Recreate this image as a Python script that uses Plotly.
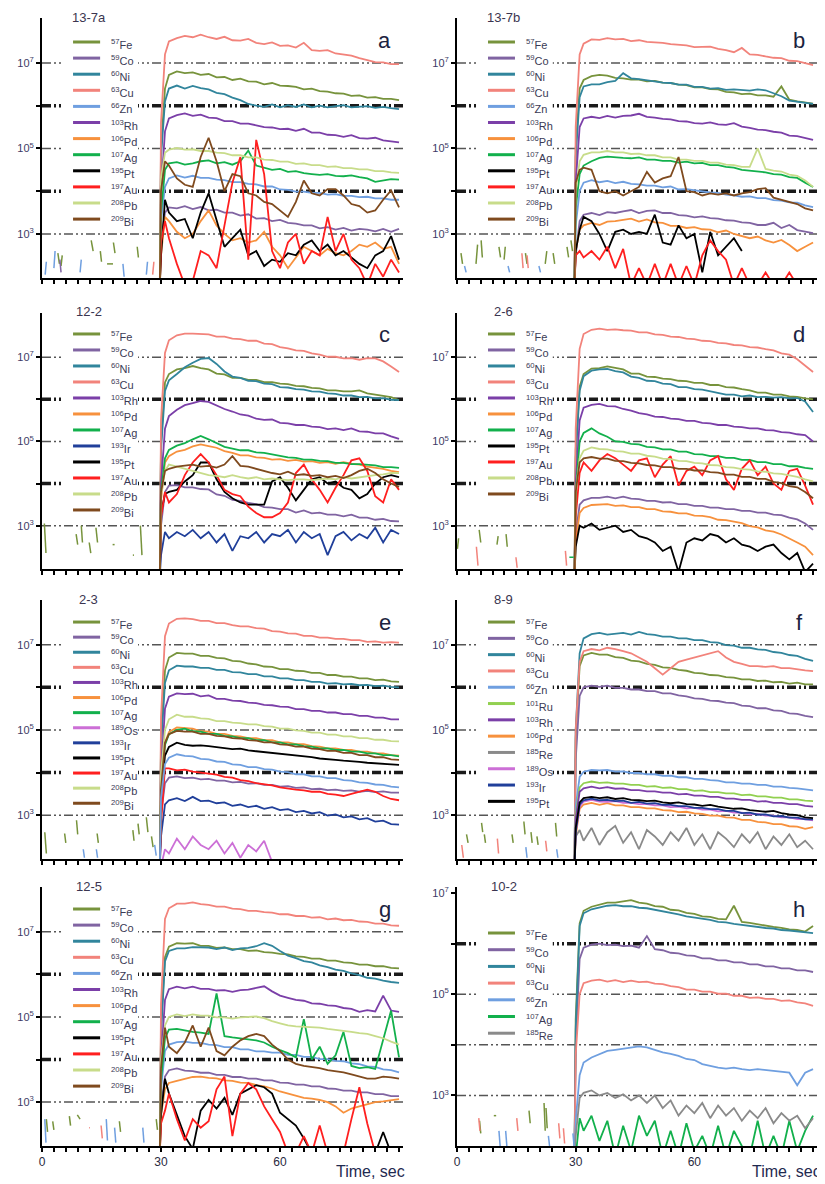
import plotly.graph_objects as go

# ---------------- sample times (s) ----------------
T = [30, 31, 32, 34, 36, 38, 40, 42, 44, 46, 48, 50, 52, 54, 56, 58, 60,
     62, 64, 66, 68, 70, 72, 74, 76, 78, 80, 82, 84, 86, 88, 90]
START_T = 29.7   # records start from the noise floor just before 30 s
FLOOR = 1.8      # log10 level below axis bottom (no signal)

COLORS = {
    "Fe": "#77933c", "Co": "#8064a2", "Ni": "#31859c", "Cu": "#f2837b",
    "Zn": "#6f9fe0", "Ru": "#92d050", "Rh": "#7b3fa8", "Pd": "#f7913d",
    "Ag": "#12b04c", "Re": "#8a8a8a", "Os": "#cc6fd6", "Ir": "#203f9a",
    "Pt": "#000000", "Au": "#ff1f1f", "Pb": "#c8dc8a", "Bi": "#7f4a1e",
}
MASS = {"Fe": 57, "Co": 59, "Ni": 60, "Cu": 63, "Zn": 66, "Ru": 101, "Rh": 103,
        "Pd": 106, "Ag": 107, "Re": 185, "Os": 189, "Ir": 193, "Pt": 195,
        "Au": 197, "Pb": 208, "Bi": 209}

# ---------------- panel a : 13-7a (log10 counts) ----------------
Fe_a = [5.0, 6.4, 6.72, 6.8, 6.76, 6.78, 6.72, 6.74, 6.66, 6.67, 6.6, 6.63, 6.57, 6.56, 6.5, 6.53, 6.47, 6.46, 6.44, 6.38, 6.4, 6.34, 6.33, 6.29, 6.28, 6.23, 6.24, 6.19, 6.2, 6.16, 6.16, 6.13]
Co_a = [2.8, 3.5, 3.62, 3.6, 3.65, 3.58, 3.63, 3.55, 3.57, 3.5, 3.5, 3.43, 3.46, 3.36, 3.37, 3.3, 3.33, 3.26, 3.24, 3.2, 3.2, 3.13, 3.16, 3.1, 3.14, 3.08, 3.12, 3.1, 3.06, 3.12, 3.05, 3.12]
Ni_a = [4.8, 6.1, 6.4, 6.47, 6.4, 6.46, 6.41, 6.38, 6.3, 6.27, 6.19, 6.13, 6.04, 6.0, 5.97, 6.03, 5.96, 6.01, 5.97, 6.03, 5.96, 6.0, 5.96, 5.99, 6.01, 5.96, 5.98, 5.99, 5.95, 5.97, 5.94, 5.92]
Cu_a = [5.6, 7.2, 7.5, 7.58, 7.63, 7.6, 7.66, 7.6, 7.56, 7.61, 7.53, 7.52, 7.56, 7.47, 7.44, 7.48, 7.4, 7.41, 7.36, 7.47, 7.3, 7.28, 7.3, 7.22, 7.2, 7.17, 7.11, 7.06, 7.02, 7.01, 6.97, 6.97]
Zn_a = [3.3, 4.1, 4.3, 4.37, 4.32, 4.36, 4.31, 4.31, 4.27, 4.26, 4.21, 4.21, 4.17, 4.16, 4.11, 4.11, 4.04, 4.03, 3.99, 3.99, 3.96, 3.96, 3.92, 3.93, 3.89, 3.89, 3.86, 3.87, 3.83, 3.83, 3.8, 3.8]
Rh_a = [4.0, 5.4, 5.7, 5.78, 5.82, 5.76, 5.79, 5.72, 5.71, 5.64, 5.64, 5.58, 5.58, 5.54, 5.5, 5.49, 5.45, 5.46, 5.41, 5.46, 5.37, 5.37, 5.32, 5.31, 5.27, 5.31, 5.24, 5.23, 5.25, 5.19, 5.16, 5.14]
Pd_a = [2.5, 3.4, 3.3, 3.05, 2.9, 3.0, 3.3, 3.55, 3.2, 3.0, 2.85, 2.9, 2.8, 2.85, 3.05, 2.7, 2.5, 2.2, 2.45, 2.7, 2.6, 2.5, 2.65, 2.55, 2.5, 2.6, 2.75, 2.7, 2.8, 2.65, 2.7, 2.3]
Ag_a = [3.5, 4.5, 4.65, 4.68, 4.62, 4.65, 4.7, 4.72, 4.65, 4.68, 4.62, 4.7, 4.95, 4.6, 4.55, 4.5, 4.52, 4.45, 4.47, 4.42, 4.4, 4.38, 4.4, 4.36, 4.35, 4.37, 4.33, 4.3, 4.22, 4.25, 4.28, 4.27]
Pt_a = [2.5, 3.8, 3.5, 3.3, 3.35, 2.9, 3.5, 3.95, 3.3, 2.7, 2.9, 3.1, 2.5, 2.6, 2.25, 2.4, 2.35, 2.55, 2.5, 2.75, 2.85, 2.6, 2.75, 2.5, 2.6, 2.45, 2.3, 2.2, 2.5, 2.6, 2.95, 2.4]
Au_a = [2.8, 3.3, 2.9, 2.3, 1.8, 1.9, 2.6, 2.5, 2.2, 3.2, 4.2, 4.8, 2.4, 5.2, 4.4, 2.6, 2.2, 2.8, 3.0, 2.3, 2.6, 2.5, 3.4, 2.6, 3.0, 2.4, 2.2, 1.8, 2.3, 2.0, 2.4, 2.1]
Pb_a = [4.3, 4.9, 4.97, 5.01, 4.97, 4.98, 4.94, 4.94, 4.9, 4.89, 4.84, 4.84, 4.79, 4.79, 4.74, 4.73, 4.69, 4.69, 4.64, 4.65, 4.61, 4.61, 4.57, 4.58, 4.54, 4.54, 4.51, 4.51, 4.47, 4.47, 4.44, 4.43]
Bi_a = [4.0, 4.7, 4.6, 4.3, 4.15, 4.1, 4.8, 5.25, 4.7, 4.0, 4.4, 4.35, 3.95, 3.9, 3.75, 3.7, 3.55, 3.4, 3.75, 4.25, 3.95, 3.9, 4.05, 4.05, 3.9, 3.7, 3.65, 3.5, 3.55, 3.8, 4.02, 3.62]

# ---------------- panel b : 13-7b ----------------
Fe_b = [5.0, 6.4, 6.6, 6.69, 6.72, 6.7, 6.65, 6.64, 6.61, 6.61, 6.57, 6.58, 6.54, 6.53, 6.49, 6.48, 6.43, 6.43, 6.39, 6.38, 6.32, 6.31, 6.27, 6.28, 6.24, 6.24, 6.21, 6.45, 6.14, 6.1, 6.08, 6.05]
Co_b = [2.5, 3.3, 3.45, 3.49, 3.44, 3.51, 3.49, 3.53, 3.56, 3.49, 3.54, 3.55, 3.49, 3.49, 3.44, 3.43, 3.39, 3.41, 3.37, 3.36, 3.32, 3.31, 3.27, 3.26, 3.21, 3.21, 3.26, 3.14, 3.21, 3.09, 3.06, 3.02]
Ni_b = [4.8, 6.2, 6.45, 6.5, 6.5, 6.55, 6.58, 6.76, 6.64, 6.62, 6.59, 6.57, 6.54, 6.53, 6.49, 6.49, 6.44, 6.44, 6.4, 6.41, 6.37, 6.38, 6.36, 6.35, 6.38, 6.36, 6.29, 6.22, 6.12, 6.09, 6.06, 6.04]
Cu_b = [5.5, 7.2, 7.45, 7.55, 7.54, 7.58, 7.55, 7.56, 7.51, 7.53, 7.49, 7.48, 7.47, 7.44, 7.42, 7.41, 7.37, 7.37, 7.38, 7.33, 7.3, 7.25, 7.35, 7.2, 7.19, 7.15, 7.12, 7.11, 7.05, 7.04, 7.0, 6.95]
Zn_b = [3.2, 4.0, 4.2, 4.26, 4.21, 4.24, 4.19, 4.22, 4.17, 4.16, 4.13, 4.13, 4.09, 4.11, 4.04, 4.05, 4.02, 4.0, 3.97, 3.96, 3.92, 3.9, 3.87, 3.88, 3.84, 3.84, 3.79, 3.78, 3.74, 3.73, 3.67, 3.63]
Rh_b = [4.2, 5.5, 5.7, 5.74, 5.71, 5.76, 5.72, 5.76, 5.77, 5.81, 5.74, 5.72, 5.69, 5.68, 5.64, 5.63, 5.59, 5.58, 5.61, 5.56, 5.55, 5.59, 5.51, 5.48, 5.44, 5.43, 5.39, 5.37, 5.3, 5.29, 5.24, 5.2]
Pd_b = [2.6, 3.1, 3.2, 3.26, 3.21, 3.29, 3.3, 3.33, 3.36, 3.29, 3.34, 3.27, 3.26, 3.19, 3.19, 3.14, 3.16, 3.11, 3.1, 3.04, 3.08, 3.0, 2.95, 2.9, 2.94, 2.85, 2.8, 2.86, 2.74, 2.6, 2.7, 2.8]
Ag_b = [3.6, 4.4, 4.6, 4.7, 4.78, 4.81, 4.79, 4.78, 4.77, 4.79, 4.74, 4.74, 4.71, 4.71, 4.67, 4.69, 4.65, 4.66, 4.61, 4.61, 4.57, 4.55, 4.5, 4.48, 4.45, 4.44, 4.4, 4.39, 4.33, 4.31, 4.2, 4.1]
Pt_b = [2.6, 3.1, 3.4, 3.3, 3.0, 2.6, 3.05, 3.1, 3.0, 3.05, 3.0, 3.45, 2.8, 2.75, 3.2, 2.9, 3.0, 2.1, 3.05, 2.5, 2.7, 2.9, 2.6, None, None, None, None, None, None, None, None, None]
Au_b = [2.5, 2.6, 2.45, 2.6, 2.4, 2.7, 2.2, 2.65, 1.8, 2.2, 1.8, 2.3, 1.8, 2.3, 1.8, 2.25, 1.8, 2.5, 2.85, 2.6, 2.4, 1.8, 2.2, 1.8, 1.8, 2.1, 1.8, 1.8, 2.1, 1.8, 1.8, 1.8]
Pb_b = [4.0, 4.7, 4.85, 4.91, 4.91, 4.94, 4.91, 4.91, 4.87, 4.88, 4.84, 4.84, 4.79, 4.79, 4.74, 4.74, 4.71, 4.71, 4.67, 4.67, 4.62, 4.61, 4.57, 4.57, 5.0, 4.52, 4.48, 4.46, 4.39, 4.36, 4.25, 4.1]
Bi_b = [4.2, 4.5, 4.55, 4.5, 4.0, 3.95, 4.0, 3.9, 4.0, 4.1, 4.45, 4.2, 4.3, 4.35, 4.8, 4.0, 3.98, 3.9, 3.95, 3.92, 3.95, 3.9, 3.95, 3.98, 4.05, 4.07, 3.85, 3.8, 3.75, 3.7, 3.6, 3.55]

# ---------------- panel c : 12-2 ----------------
Fe_c = [5.0, 6.4, 6.6, 6.71, 6.74, 6.79, 6.74, 6.71, 6.61, 6.59, 6.51, 6.51, 6.46, 6.46, 6.41, 6.41, 6.37, 6.36, 6.32, 6.31, 6.27, 6.26, 6.21, 6.21, 6.19, 6.19, 6.21, 6.14, 6.11, 6.07, 6.05, 5.98]
Co_c = [3.0, 3.8, 3.95, 3.96, 3.91, 3.91, 3.87, 3.86, 3.74, 3.71, 3.61, 3.59, 3.54, 3.51, 3.44, 3.43, 3.39, 3.39, 3.31, 3.36, 3.29, 3.31, 3.26, 3.26, 3.22, 3.26, 3.19, 3.19, 3.14, 3.16, 3.11, 3.1]
Ni_c = [4.8, 6.2, 6.45, 6.6, 6.76, 6.87, 6.96, 6.98, 6.84, 6.66, 6.54, 6.51, 6.44, 6.43, 6.37, 6.36, 6.29, 6.28, 6.24, 6.23, 6.19, 6.18, 6.14, 6.13, 6.09, 6.09, 6.05, 6.06, 6.02, 6.03, 5.99, 5.98]
Cu_c = [5.5, 7.1, 7.4, 7.52, 7.56, 7.56, 7.55, 7.54, 7.49, 7.49, 7.44, 7.43, 7.39, 7.39, 7.32, 7.31, 7.24, 7.21, 7.16, 7.15, 7.09, 7.06, 7.01, 7.01, 6.97, 6.98, 6.94, 6.98, 6.97, 6.9, 6.78, 6.65]
Rh_c = [4.0, 5.3, 5.6, 5.75, 5.86, 5.91, 5.96, 5.94, 5.86, 5.77, 5.71, 5.64, 5.61, 5.54, 5.51, 5.52, 5.44, 5.43, 5.39, 5.39, 5.35, 5.34, 5.29, 5.31, 5.27, 5.31, 5.24, 5.23, 5.19, 5.19, 5.12, 5.06]
Pd_c = [3.6, 4.5, 4.65, 4.76, 4.8, 4.88, 4.93, 4.89, 4.85, 4.77, 4.73, 4.67, 4.67, 4.62, 4.61, 4.57, 4.58, 4.54, 4.56, 4.52, 4.53, 4.49, 4.51, 4.47, 4.51, 4.47, 4.45, 4.4, 4.38, 4.35, 4.3, 4.27]
Ag_c = [3.8, 4.6, 4.8, 4.9, 4.96, 5.05, 5.13, 5.05, 4.95, 4.87, 4.83, 4.79, 4.79, 4.74, 4.73, 4.69, 4.66, 4.62, 4.61, 4.57, 4.57, 4.54, 4.53, 4.49, 4.49, 4.46, 4.46, 4.44, 4.43, 4.39, 4.39, 4.37]
Ir_c = [2.3, 2.85, 2.7, 2.85, 2.75, 2.9, 2.7, 2.85, 2.6, 2.8, 2.4, 2.75, 2.7, 2.85, 2.6, 2.8, 2.75, 2.9, 2.6, 2.85, 2.7, 2.8, 2.3, 2.75, 2.85, 2.65, 2.8, 2.7, 2.95, 2.6, 2.9, 2.8]
Pt_c = [3.3, 3.75, 3.8, 3.85, 4.05, 4.2, 4.5, 4.5, 4.1, 3.8, 3.65, 3.55, 3.5, 3.5, 3.5, 4.05, 4.15, 3.9, 3.6, 3.85, 4.1, 4.15, 4.0, 4.05, 3.9, 3.85, 3.65, 3.75, 4.0, 4.15, 4.2, 4.15]
Au_c = [3.2, 3.8, 3.55, 3.75, 4.2, 4.5, 4.7, 4.5, 4.2, 3.85, 3.75, 3.7, 3.45, 3.3, 3.2, 3.2, 3.3, 3.55, 4.25, 4.45, 4.1, 3.85, 3.55, 3.9, 4.2, 4.55, 4.6, 4.3, 3.7, 3.55, 4.1, 3.85]
Pb_c = [3.7, 4.3, 4.45, 4.4, 4.35, 4.3, 4.25, 4.2, 4.18, 4.15, 4.2, 4.15, 4.12, 4.15, 4.1, 4.12, 4.1, 4.08, 4.1, 4.1, 4.08, 4.1, 4.12, 4.1, 4.15, 4.12, 4.15, 4.18, 4.2, 4.22, 4.25, 4.25]
Bi_c = [3.8, 4.3, 4.35, 4.4, 4.42, 4.45, 4.4, 4.42, 4.38, 4.45, 4.65, 4.42, 4.4, 4.35, 4.3, 4.25, 4.22, 4.28, 4.2, 4.22, 4.18, 4.2, 4.15, 4.18, 4.13, 4.2, 4.3, 4.35, 4.25, 4.1, 4.0, 3.92]

# ---------------- panel d : 2-6 ----------------
Fe_d = [4.8, 6.3, 6.6, 6.73, 6.74, 6.78, 6.74, 6.71, 6.61, 6.61, 6.54, 6.53, 6.49, 6.48, 6.44, 6.43, 6.39, 6.39, 6.34, 6.34, 6.29, 6.28, 6.24, 6.21, 6.16, 6.16, 6.11, 6.11, 6.07, 6.06, 6.02, 6.0]
Co_d = [2.8, 3.5, 3.6, 3.66, 3.66, 3.69, 3.65, 3.69, 3.64, 3.63, 3.59, 3.59, 3.55, 3.56, 3.51, 3.51, 3.47, 3.47, 3.43, 3.43, 3.39, 3.39, 3.35, 3.35, 3.31, 3.31, 3.26, 3.25, 3.19, 3.15, 3.05, 2.9]
Ni_d = [4.6, 6.2, 6.55, 6.68, 6.71, 6.72, 6.67, 6.64, 6.54, 6.51, 6.44, 6.43, 6.37, 6.36, 6.29, 6.29, 6.24, 6.23, 6.19, 6.16, 6.11, 6.11, 6.07, 6.09, 6.05, 6.06, 6.04, 6.05, 6.02, 6.03, 5.95, 5.7]
Cu_d = [5.3, 7.2, 7.55, 7.65, 7.68, 7.65, 7.66, 7.64, 7.63, 7.59, 7.59, 7.54, 7.53, 7.49, 7.48, 7.44, 7.43, 7.39, 7.38, 7.34, 7.33, 7.29, 7.28, 7.24, 7.23, 7.19, 7.16, 7.09, 7.06, 6.95, 6.8, 6.65]
Rh_d = [4.0, 5.5, 5.8, 5.87, 5.89, 5.84, 5.83, 5.77, 5.73, 5.67, 5.64, 5.59, 5.58, 5.54, 5.53, 5.49, 5.49, 5.44, 5.43, 5.39, 5.39, 5.35, 5.34, 5.31, 5.31, 5.27, 5.26, 5.22, 5.21, 5.17, 5.15, 5.0]
Pd_d = [2.6, 3.3, 3.42, 3.49, 3.5, 3.51, 3.47, 3.48, 3.44, 3.44, 3.39, 3.39, 3.34, 3.33, 3.29, 3.29, 3.24, 3.23, 3.2, 3.14, 3.13, 3.09, 3.06, 2.99, 2.96, 2.89, 2.86, 2.79, 2.7, 2.6, 2.5, 2.3]
Ag_d = [3.8, 5.0, 5.2, 5.31, 5.19, 5.11, 5.0, 4.99, 4.94, 4.93, 4.87, 4.86, 4.81, 4.81, 4.76, 4.76, 4.7, 4.69, 4.65, 4.65, 4.61, 4.61, 4.56, 4.56, 4.51, 4.51, 4.46, 4.46, 4.41, 4.41, 4.37, 4.35]
Pt_d = [2.5, 3.0, 2.95, 3.05, 2.9, 2.95, 3.0, 2.85, 2.9, 2.75, 2.7, 2.6, 2.4, 2.5, 1.9, 2.6, 2.7, 2.65, 2.8, 2.75, 2.6, 2.7, 2.55, 2.5, 2.4, 2.5, 2.55, 2.35, 2.2, 2.35, 1.9, 2.1]
Au_d = [3.2, 4.25, 4.5, 4.3, 4.55, 4.7, 4.6, 4.45, 4.3, 4.55, 4.6, 4.15, 4.45, 4.65, 3.95, 4.3, 4.4, 4.2, 4.55, 4.65, 4.1, 3.85, 4.35, 4.55, 4.2, 4.4, 4.0, 3.85, 4.3, 4.35, 3.95, 3.5]
Pb_d = [3.8, 4.6, 4.78, 4.86, 4.82, 4.81, 4.77, 4.76, 4.71, 4.71, 4.66, 4.64, 4.59, 4.58, 4.54, 4.53, 4.49, 4.48, 4.44, 4.43, 4.39, 4.38, 4.34, 4.33, 4.29, 4.28, 4.24, 4.23, 4.19, 4.16, 4.1, 4.05]
Bi_d = [3.8, 4.5, 4.6, 4.63, 4.59, 4.59, 4.54, 4.53, 4.49, 4.48, 4.44, 4.43, 4.39, 4.39, 4.35, 4.35, 4.31, 4.31, 4.27, 4.26, 4.21, 4.21, 4.16, 4.16, 4.11, 4.11, 4.04, 4.01, 3.94, 3.91, 3.8, 3.65]

# ---------------- panel e : 2-3 ----------------
Fe_e = [4.8, 6.4, 6.7, 6.81, 6.79, 6.79, 6.74, 6.74, 6.69, 6.68, 6.62, 6.61, 6.56, 6.54, 6.49, 6.48, 6.43, 6.43, 6.39, 6.38, 6.34, 6.34, 6.29, 6.29, 6.25, 6.25, 6.21, 6.21, 6.17, 6.18, 6.14, 6.13]
Co_e = [3.0, 3.75, 3.88, 3.91, 3.87, 3.88, 3.84, 3.85, 3.81, 3.81, 3.77, 3.78, 3.74, 3.75, 3.71, 3.71, 3.67, 3.68, 3.64, 3.65, 3.61, 3.62, 3.59, 3.6, 3.57, 3.58, 3.55, 3.57, 3.54, 3.56, 3.53, 3.53]
Ni_e = [4.6, 6.1, 6.4, 6.51, 6.49, 6.49, 6.46, 6.46, 6.41, 6.41, 6.36, 6.35, 6.31, 6.31, 6.26, 6.26, 6.21, 6.21, 6.17, 6.17, 6.13, 6.13, 6.09, 6.1, 6.07, 6.08, 6.05, 6.06, 6.03, 6.04, 6.01, 6.0]
Cu_e = [5.3, 7.2, 7.5, 7.61, 7.62, 7.6, 7.56, 7.56, 7.51, 7.51, 7.46, 7.43, 7.43, 7.39, 7.38, 7.32, 7.31, 7.27, 7.26, 7.21, 7.21, 7.17, 7.17, 7.14, 7.14, 7.11, 7.11, 7.07, 7.08, 7.05, 7.06, 7.05]
Zn_e = [3.4, 4.2, 4.35, 4.43, 4.39, 4.38, 4.32, 4.31, 4.26, 4.25, 4.19, 4.18, 4.13, 4.13, 4.08, 4.07, 4.02, 4.01, 3.96, 3.96, 3.91, 3.91, 3.87, 3.87, 3.82, 3.81, 3.77, 3.76, 3.72, 3.71, 3.67, 3.65]
Rh_e = [4.0, 5.5, 5.78, 5.86, 5.84, 5.85, 5.79, 5.81, 5.73, 5.73, 5.69, 5.68, 5.64, 5.63, 5.59, 5.58, 5.55, 5.54, 5.49, 5.49, 5.45, 5.45, 5.41, 5.41, 5.37, 5.37, 5.33, 5.33, 5.29, 5.29, 5.25, 5.25]
Pd_e = [3.6, 4.7, 4.95, 5.06, 5.04, 5.03, 4.97, 4.96, 4.91, 4.91, 4.86, 4.85, 4.81, 4.81, 4.76, 4.76, 4.71, 4.71, 4.67, 4.67, 4.62, 4.61, 4.57, 4.57, 4.53, 4.53, 4.49, 4.49, 4.45, 4.45, 4.41, 4.4]
Ag_e = [3.5, 4.65, 4.9, 5.0, 5.03, 4.97, 4.96, 4.91, 4.91, 4.86, 4.85, 4.81, 4.81, 4.76, 4.76, 4.71, 4.71, 4.66, 4.66, 4.62, 4.61, 4.57, 4.57, 4.53, 4.53, 4.49, 4.49, 4.45, 4.45, 4.41, 4.41, 4.38]
Os_e = [1.8, 2.2, 2.1, 2.45, 2.2, 2.5, 2.3, 2.2, 2.4, 2.1, 2.35, 2.0, 2.3, 2.15, 2.4, 1.9, 1.8, 1.8, 1.8, 1.8, 1.8, 1.8, 1.8, 1.8, 1.8, 1.8, 1.8, 1.8, 1.8, 1.8, 1.8, 1.8]
Ir_e = [2.5, 3.25, 3.35, 3.4, 3.33, 3.43, 3.33, 3.34, 3.28, 3.3, 3.22, 3.25, 3.19, 3.22, 3.15, 3.19, 3.12, 3.14, 3.07, 3.1, 3.04, 3.07, 2.99, 3.02, 2.95, 2.97, 2.9, 2.93, 2.85, 2.87, 2.79, 2.78]
Pt_e = [3.4, 4.4, 4.6, 4.7, 4.65, 4.63, 4.64, 4.62, 4.6, 4.58, 4.55, 4.56, 4.52, 4.5, 4.48, 4.47, 4.45, 4.42, 4.4, 4.38, 4.36, 4.33, 4.32, 4.3, 4.28, 4.27, 4.25, 4.23, 4.22, 4.2, 4.2, 4.18]
Au_e = [2.8, 4.1, 4.1, 4.05, 4.07, 4.02, 4.0, 3.98, 3.95, 3.9, 3.88, 3.82, 3.8, 3.75, 3.72, 3.7, 3.65, 3.62, 3.6, 3.58, 3.55, 3.55, 3.5, 3.48, 3.45, 3.5, 3.55, 3.6, 3.55, 3.45, 3.38, 3.35]
Pb_e = [4.0, 5.0, 5.25, 5.36, 5.31, 5.31, 5.27, 5.26, 5.21, 5.21, 5.17, 5.16, 5.13, 5.13, 5.09, 5.08, 5.03, 5.03, 4.99, 4.98, 4.94, 4.94, 4.89, 4.89, 4.85, 4.85, 4.81, 4.81, 4.77, 4.77, 4.74, 4.73]
Bi_e = [3.6, 4.7, 4.9, 4.98, 4.96, 4.96, 4.91, 4.91, 4.86, 4.85, 4.81, 4.8, 4.76, 4.75, 4.71, 4.71, 4.66, 4.65, 4.61, 4.61, 4.56, 4.55, 4.51, 4.51, 4.46, 4.46, 4.41, 4.41, 4.36, 4.36, 4.31, 4.3]

# ---------------- panel f : 8-9 ----------------
Fe_f = [4.8, 6.5, 6.75, 6.81, 6.77, 6.77, 6.71, 6.69, 6.63, 6.61, 6.55, 6.53, 6.47, 6.46, 6.41, 6.39, 6.34, 6.33, 6.29, 6.28, 6.24, 6.23, 6.19, 6.19, 6.15, 6.16, 6.12, 6.13, 6.09, 6.11, 6.07, 6.07]
Co_f = [4.3, 5.8, 6.0, 6.04, 6.01, 6.04, 5.99, 5.99, 5.95, 5.95, 5.91, 5.91, 5.86, 5.86, 5.81, 5.79, 5.74, 5.73, 5.69, 5.68, 5.64, 5.63, 5.57, 5.56, 5.51, 5.51, 5.46, 5.45, 5.39, 5.38, 5.33, 5.3]
Ni_f = [5.0, 6.8, 7.15, 7.25, 7.28, 7.24, 7.26, 7.28, 7.24, 7.3, 7.25, 7.23, 7.19, 7.19, 7.15, 7.15, 7.11, 7.11, 7.06, 7.05, 6.99, 6.98, 6.93, 6.93, 6.89, 6.88, 6.83, 6.81, 6.76, 6.74, 6.67, 6.62]
Cu_f = [5.0, 6.6, 6.85, 6.9, 6.87, 6.93, 6.9, 6.85, 6.8, 6.7, 6.6, 6.45, 6.3, 6.45, 6.6, 6.65, 6.7, 6.75, 6.8, 6.85, 6.7, 6.6, 6.55, 6.5, 6.5, 6.48, 6.5, 6.45, 6.45, 6.42, 6.4, 6.38]
Zn_f = [3.2, 3.9, 4.02, 4.06, 4.05, 4.06, 4.02, 4.03, 3.99, 3.99, 3.96, 3.96, 3.92, 3.93, 3.89, 3.89, 3.85, 3.85, 3.82, 3.81, 3.77, 3.77, 3.74, 3.74, 3.71, 3.71, 3.67, 3.67, 3.64, 3.63, 3.6, 3.58]
Ru_f = [3.0, 3.65, 3.75, 3.79, 3.76, 3.77, 3.74, 3.74, 3.71, 3.71, 3.67, 3.68, 3.64, 3.65, 3.61, 3.61, 3.57, 3.58, 3.54, 3.54, 3.51, 3.51, 3.47, 3.48, 3.44, 3.44, 3.41, 3.41, 3.37, 3.37, 3.34, 3.33]
Rh_f = [2.9, 3.55, 3.63, 3.67, 3.63, 3.66, 3.62, 3.63, 3.59, 3.59, 3.56, 3.56, 3.53, 3.53, 3.49, 3.5, 3.46, 3.46, 3.43, 3.43, 3.39, 3.39, 3.36, 3.36, 3.32, 3.33, 3.29, 3.29, 3.26, 3.26, 3.22, 3.2]
Pd_f = [2.5, 3.15, 3.25, 3.29, 3.24, 3.28, 3.23, 3.23, 3.19, 3.19, 3.16, 3.16, 3.12, 3.11, 3.07, 3.08, 3.04, 3.03, 2.99, 2.99, 2.95, 2.94, 2.89, 2.89, 2.84, 2.83, 2.79, 2.79, 2.74, 2.73, 2.68, 2.72]
Re_f = [2.5, 2.65, 2.4, 2.7, 2.3, 2.6, 2.75, 2.35, 2.6, 2.2, 2.65, 2.5, 2.3, 2.6, 2.4, 2.7, 2.3, 2.55, 2.2, 2.6, 2.45, 2.25, 2.55, 2.35, 2.6, 2.2, 2.5, 2.3, 2.55, 2.25, 2.4, 2.2]
Os_f = [2.6, 3.2, 3.32, 3.36, 3.32, 3.31, 3.33, 3.29, 3.29, 3.26, 3.26, 3.23, 3.23, 3.19, 3.2, 3.16, 3.17, 3.13, 3.13, 3.09, 3.1, 3.06, 3.06, 3.02, 3.03, 2.99, 2.99, 2.95, 2.95, 2.91, 2.91, 2.88]
Ir_f = [2.6, 3.25, 3.35, 3.39, 3.35, 3.36, 3.33, 3.34, 3.29, 3.31, 3.27, 3.28, 3.24, 3.24, 3.21, 3.21, 3.17, 3.17, 3.14, 3.14, 3.1, 3.1, 3.05, 3.06, 3.01, 3.02, 2.97, 2.98, 2.94, 2.94, 2.9, 2.9]
Pt_f = [2.7, 3.3, 3.4, 3.43, 3.4, 3.42, 3.38, 3.4, 3.36, 3.35, 3.33, 3.34, 3.3, 3.28, 3.3, 3.26, 3.25, 3.22, 3.24, 3.2, 3.18, 3.15, 3.16, 3.12, 3.1, 3.08, 3.1, 3.05, 3.02, 3.0, 2.95, 2.93]

# ---------------- panel g : 12-5 ----------------
Fe_g = [4.8, 6.4, 6.65, 6.73, 6.72, 6.73, 6.67, 6.67, 6.62, 6.63, 6.59, 6.59, 6.55, 6.56, 6.52, 6.51, 6.48, 6.47, 6.42, 6.41, 6.37, 6.37, 6.32, 6.32, 6.28, 6.27, 6.23, 6.23, 6.19, 6.19, 6.15, 6.14]
Co_g = [2.9, 3.6, 3.75, 3.79, 3.74, 3.73, 3.69, 3.69, 3.64, 3.64, 3.59, 3.59, 3.55, 3.55, 3.51, 3.51, 3.46, 3.45, 3.41, 3.41, 3.37, 3.37, 3.32, 3.31, 3.27, 3.27, 3.23, 3.23, 3.19, 3.19, 3.14, 3.14]
Ni_g = [4.6, 6.3, 6.55, 6.61, 6.61, 6.64, 6.63, 6.63, 6.59, 6.63, 6.57, 6.61, 6.62, 6.66, 6.73, 6.67, 6.55, 6.44, 6.38, 6.31, 6.28, 6.21, 6.17, 6.11, 6.08, 6.02, 5.98, 5.92, 5.9, 5.85, 5.82, 5.8]
Cu_g = [5.3, 7.3, 7.55, 7.66, 7.66, 7.69, 7.65, 7.63, 7.59, 7.59, 7.54, 7.53, 7.49, 7.49, 7.46, 7.45, 7.41, 7.41, 7.37, 7.37, 7.33, 7.34, 7.29, 7.31, 7.27, 7.28, 7.24, 7.23, 7.19, 7.19, 7.15, 7.14]
Zn_g = [3.3, 4.2, 4.35, 4.41, 4.42, 4.39, 4.39, 4.35, 4.34, 4.29, 4.29, 4.24, 4.24, 4.19, 4.19, 4.16, 4.16, 4.11, 4.11, 4.06, 4.06, 4.01, 4.01, 3.97, 3.96, 3.91, 3.89, 3.84, 3.83, 3.77, 3.75, 3.7]
Rh_g = [4.0, 5.4, 5.65, 5.71, 5.67, 5.71, 5.66, 5.66, 5.62, 5.63, 5.59, 5.63, 5.64, 5.68, 5.72, 5.6, 5.5, 5.45, 5.4, 5.38, 5.32, 5.31, 5.27, 5.26, 5.21, 5.19, 5.12, 5.16, 5.13, 5.5, 5.15, 5.12]
Pd_g = [2.7, 3.3, 3.45, 3.5, 3.55, 3.59, 3.6, 3.57, 3.56, 3.51, 3.5, 3.46, 3.45, 3.4, 3.37, 3.32, 3.25, 3.2, 3.15, 3.1, 3.08, 3.05, 3.0, 2.9, 2.75, 2.85, 2.9, 2.95, 3.0, 3.02, 3.05, 3.07]
Ag_g = [3.5, 4.5, 4.7, 4.72, 4.68, 4.65, 4.63, 4.6, 5.55, 4.55, 4.52, 4.5, 4.48, 4.45, 4.4, 4.3, 4.22, 4.15, 4.05, 4.95, 4.0, 4.3, 3.9, 4.1, 4.65, 3.85, 3.8, 3.82, 3.78, 4.5, 5.15, 4.05]
Pt_g = [2.7, 3.55, 3.2, 2.7, 2.2, 1.9, 2.8, 3.05, 2.85, 3.1, 2.7, 3.2, 3.3, 3.4, 3.35, 3.2, 2.75, 2.6, 2.45, 2.15, 1.8, 1.8, 1.8, 1.8, 1.8, 1.8, 1.8, 1.8, 1.8, 2.3, 1.8, 1.8]
Au_g = [2.5, 2.8, 3.2, 2.6, 2.1, 2.6, 2.4, 2.55, 3.3, 3.6, 2.2, 3.2, 3.45, 3.3, 2.9, 2.6, 2.3, 1.8, 1.8, 2.2, 1.8, 2.45, 1.8, 1.8, 1.8, 2.6, 3.35, 2.5, 1.8, 1.8, 1.8, 1.8]
Pb_g = [4.0, 4.8, 5.0, 5.06, 5.02, 5.06, 5.03, 5.03, 4.99, 4.99, 4.96, 4.99, 5.0, 5.01, 4.97, 4.9, 4.85, 4.8, 4.78, 4.77, 4.76, 4.75, 4.72, 4.7, 4.68, 4.65, 4.62, 4.6, 4.55, 4.5, 4.42, 4.35]
Bi_g = [3.8, 4.75, 4.3, 4.15, 4.4, 4.8, 4.3, 4.75, 4.2, 4.1, 4.3, 4.45, 4.55, 4.6, 4.55, 4.35, 4.2, 4.0, 3.9, 3.85, 3.83, 3.8, 3.75, 3.72, 3.7, 3.65, 3.6, 3.55, 3.55, 3.6, 3.58, 3.55]

# ---------------- panel h : 10-2 ----------------
Fe_h = [4.5, 6.4, 6.65, 6.73, 6.77, 6.81, 6.81, 6.84, 6.86, 6.81, 6.79, 6.74, 6.73, 6.67, 6.66, 6.61, 6.59, 6.54, 6.53, 6.49, 6.48, 6.75, 6.43, 6.41, 6.38, 6.36, 6.33, 6.31, 6.28, 6.27, 6.24, 6.35]
Co_h = [4.0, 5.7, 5.92, 5.98, 6.0, 5.97, 5.98, 5.95, 5.96, 5.92, 6.15, 5.89, 5.87, 5.82, 5.81, 5.77, 5.76, 5.71, 5.71, 5.67, 5.67, 5.63, 5.63, 5.59, 5.59, 5.55, 5.55, 5.51, 5.51, 5.47, 5.47, 5.44]
Ni_h = [4.3, 6.35, 6.6, 6.68, 6.72, 6.75, 6.76, 6.74, 6.74, 6.71, 6.7, 6.67, 6.65, 6.61, 6.58, 6.54, 6.52, 6.49, 6.47, 6.43, 6.42, 6.39, 6.37, 6.34, 6.33, 6.31, 6.3, 6.27, 6.26, 6.24, 6.23, 6.21]
Cu_h = [3.8, 5.0, 5.22, 5.27, 5.29, 5.25, 5.28, 5.24, 5.27, 5.24, 5.25, 5.21, 5.2, 5.16, 5.14, 5.09, 5.09, 5.05, 5.05, 5.01, 5.01, 4.97, 4.97, 4.93, 4.94, 4.91, 4.91, 4.87, 4.88, 4.84, 4.82, 4.77]
Zn_h = [2.5, 3.4, 3.65, 3.75, 3.82, 3.88, 3.9, 3.92, 3.95, 3.97, 3.95, 3.9, 3.85, 3.82, 3.78, 3.72, 3.7, 3.62, 3.58, 3.55, 3.53, 3.55, 3.52, 3.5, 3.52, 3.5, 3.48, 3.47, 3.45, 3.2, 3.45, 3.52]
Ag_h = [1.8, 2.55, 2.3, 2.6, 2.1, 2.5, 1.8, 2.4, 1.9, 2.6, 2.2, 2.5, 1.8, 2.3, 1.8, 2.45, 1.9, 2.2, 1.8, 2.4, 1.8, 2.3, 2.0, 1.8, 2.5, 1.8, 2.2, 1.8, 2.5, 1.9, 2.3, 2.6]
Re_h = [2.2, 2.95, 3.05, 3.1, 3.0, 3.05, 2.95, 3.02, 2.9, 3.0, 2.85, 3.0, 2.75, 2.9, 2.6, 2.8, 2.65, 2.85, 2.55, 2.8, 2.6, 2.75, 2.5, 2.7, 2.55, 2.75, 2.45, 2.65, 2.5, 2.6, 2.35, 2.55]

# ------------- background fragments before 30 s: (t0, log0, t1, log1) -------------
PRE_a = {"Zn": [(0.8, 2.05, 1.1, 2.35), (3.0, 2.2, 3.3, 2.6), (9.6, 2.1, 9.9, 2.4), (20.4, 2.3, 20.7, 2.0), (26.3, 2.05, 26.6, 2.35)],
         "Fe": [(4.0, 2.55, 4.4, 2.3), (4.8, 2.25, 5.1, 2.5), (12.4, 2.85, 12.9, 2.6), (14.7, 2.6, 15.0, 2.35), (16.4, 2.3, 17.9, 2.3), (18.0, 2.8, 18.4, 2.55), (24.0, 2.7, 24.3, 2.45)],
         "Co": [(4.5, 2.4, 4.8, 2.1)], "Cu": [(27.9, 2.05, 28.2, 2.35)]}
PRE_b = {"Fe": [(1.0, 2.55, 1.4, 2.3), (4.8, 2.3, 5.2, 2.75), (6.1, 2.85, 6.4, 2.45), (10.6, 2.7, 11.0, 2.45), (11.9, 2.4, 12.2, 2.7), (17.3, 2.55, 17.7, 2.3), (22.3, 2.3, 22.7, 2.6), (24.3, 2.55, 24.7, 2.3), (27.8, 2.7, 28.2, 2.45), (28.8, 2.85, 29.2, 2.6)],
         "Zn": [(1.9, 2.25, 2.3, 2.1), (12.9, 2.25, 13.3, 2.1), (20.7, 2.25, 21.1, 2.1)],
         "Cu": [(16.4, 2.55, 16.7, 2.2), (17.7, 2.5, 18.0, 2.2)]}
PRE_c = {"Fe": [(0.6, 3.05, 1.0, 2.35), (8.6, 2.8, 9.0, 2.55), (9.9, 3.0, 10.2, 2.6), (11.9, 2.6, 12.3, 2.35), (13.6, 2.95, 14.0, 2.6), (17.8, 2.55, 18.3, 2.55), (22.9, 2.3, 23.2, 2.3), (24.8, 3.0, 25.2, 2.3)]}
PRE_d = {"Fe": [(0.1, 2.45, 0.4, 2.7), (5.6, 2.9, 6.0, 2.6), (10.1, 2.55, 10.4, 2.75), (12.4, 2.8, 12.7, 2.5)],
         "Cu": [(4.9, 2.5, 5.3, 2.05), (14.9, 2.25, 15.2, 2.0), (27.4, 2.4, 27.7, 2.05)],
         "Ag": [(28.4, 2.25, 29.5, 2.25)]}
PRE_e = {"Fe": [(0.7, 2.6, 1.1, 2.1), (5.7, 2.57, 6.0, 2.35), (8.7, 2.88, 9.0, 2.55), (13.9, 2.57, 14.2, 2.35), (22.9, 2.65, 23.2, 2.4), (24.2, 2.8, 24.5, 2.55), (26.3, 2.95, 26.7, 2.6), (27.6, 2.5, 28.0, 2.25)],
         "Zn": [(10.4, 2.2, 10.7, 2.0), (13.7, 2.2, 14.0, 2.0), (28.4, 2.3, 28.8, 2.05)]}
PRE_f = {"Fe": [(2.4, 2.55, 2.8, 2.35), (6.2, 2.82, 6.5, 2.6), (6.9, 2.55, 7.2, 2.35), (13.9, 2.55, 14.2, 2.35), (16.9, 2.85, 17.2, 2.55), (18.7, 2.6, 19.0, 2.35), (20.2, 2.5, 20.5, 2.3), (24.9, 2.82, 25.2, 2.5)],
         "Cu": [(1.2, 2.3, 1.6, 2.0), (10.2, 2.45, 10.5, 2.1), (22.4, 2.4, 22.7, 2.15)],
         "Zn": [(17.4, 2.25, 17.7, 2.0), (25.2, 2.2, 25.5, 2.0)]}
PRE_g = {"Fe": [(1.1, 2.6, 1.4, 2.3), (2.7, 2.55, 3.0, 2.35), (6.9, 2.67, 7.2, 2.45), (8.9, 2.7, 9.6, 2.6), (19.5, 2.55, 19.8, 2.3), (28.8, 2.6, 29.1, 2.35)],
         "Zn": [(0.7, 2.6, 1.0, 2.05), (16.2, 2.6, 16.5, 2.1), (18.3, 2.4, 18.6, 2.05), (25.4, 2.4, 25.7, 2.05)],
         "Cu": [(11.9, 2.4, 12.1, 2.4), (14.9, 2.45, 15.2, 2.15)]}
PRE_h = {"Fe": [(5.7, 2.5, 6.0, 2.25), (9.3, 2.6, 9.9, 2.6), (18.2, 2.7, 18.5, 2.45), (22.0, 2.85, 22.3, 2.3), (22.5, 2.75, 22.8, 2.35)],
         "Cu": [(5.5, 2.55, 5.8, 2.3), (15.1, 2.55, 15.4, 2.3), (25.7, 2.45, 26.0, 2.15), (26.9, 2.35, 27.2, 2.05)],
         "Zn": [(10.6, 2.3, 10.9, 2.0), (12.3, 2.3, 12.6, 2.0), (23.1, 2.2, 23.4, 2.0), (29.3, 2.25, 29.6, 2.0)]}

PANELS = [
    dict(title="13-7a", letter="a", pre=PRE_a,
         series={"Fe": Fe_a, "Co": Co_a, "Ni": Ni_a, "Cu": Cu_a, "Zn": Zn_a, "Rh": Rh_a, "Pd": Pd_a, "Ag": Ag_a, "Pt": Pt_a, "Au": Au_a, "Pb": Pb_a, "Bi": Bi_a}, extra={}),
    dict(title="13-7b", letter="b", pre=PRE_b,
         series={"Fe": Fe_b, "Co": Co_b, "Ni": Ni_b, "Cu": Cu_b, "Zn": Zn_b, "Rh": Rh_b, "Pd": Pd_b, "Ag": Ag_b, "Pt": Pt_b, "Au": Au_b, "Pb": Pb_b, "Bi": Bi_b}, extra={}),
    dict(title="12-2", letter="c", pre=PRE_c,
         series={"Fe": Fe_c, "Co": Co_c, "Ni": Ni_c, "Cu": Cu_c, "Rh": Rh_c, "Pd": Pd_c, "Ag": Ag_c, "Ir": Ir_c, "Pt": Pt_c, "Au": Au_c, "Pb": Pb_c, "Bi": Bi_c}, extra={}),
    dict(title="2-6", letter="d", pre=PRE_d,
         series={"Fe": Fe_d, "Co": Co_d, "Ni": Ni_d, "Cu": Cu_d, "Rh": Rh_d, "Pd": Pd_d, "Ag": Ag_d, "Pt": Pt_d, "Au": Au_d, "Pb": Pb_d, "Bi": Bi_d}, extra={}),
    dict(title="2-3", letter="e", pre=PRE_e,
         series={"Fe": Fe_e, "Co": Co_e, "Ni": Ni_e, "Cu": Cu_e, "Rh": Rh_e, "Pd": Pd_e, "Ag": Ag_e, "Os": Os_e, "Ir": Ir_e, "Pt": Pt_e, "Au": Au_e, "Pb": Pb_e, "Bi": Bi_e}, extra={"Zn": Zn_e}),
    dict(title="8-9", letter="f", pre=PRE_f,
         series={"Fe": Fe_f, "Co": Co_f, "Ni": Ni_f, "Cu": Cu_f, "Zn": Zn_f, "Ru": Ru_f, "Rh": Rh_f, "Pd": Pd_f, "Re": Re_f, "Os": Os_f, "Ir": Ir_f, "Pt": Pt_f}, extra={}),
    dict(title="12-5", letter="g", pre=PRE_g,
         series={"Fe": Fe_g, "Co": Co_g, "Ni": Ni_g, "Cu": Cu_g, "Zn": Zn_g, "Rh": Rh_g, "Pd": Pd_g, "Ag": Ag_g, "Pt": Pt_g, "Au": Au_g, "Pb": Pb_g, "Bi": Bi_g}, extra={}),
    dict(title="10-2", letter="h", pre=PRE_h,
         series={"Fe": Fe_h, "Co": Co_h, "Ni": Ni_h, "Cu": Cu_h, "Zn": Zn_h, "Ag": Ag_h, "Re": Re_h}, extra={}),
]

# ---------------- layout geometry ----------------
# the page body adds an 8 px offset; the figure is sized to fill the rest of the window
W, H = 817, 1176
M = dict(l=34, r=8, t=10, b=38)
PH = H - M["t"] - M["b"]
X_RANGE = [0, 91]
X_DOM = [[0.0, 0.4658], [0.5355, 1.0]]
Y_DOM = [[0.7695, 1.0], [0.5115, 0.7385], [0.2544, 0.4840], [0.0, 0.2296]]
Y_RANGE = [[1.97, 8.05]] * 7 + [[2.0, 7.12]]
LEG_GEOM = [(24, 16.1), (24, 16.1), (21, 16.0), (21, 16.0), (22, 15.1), (22, 16.3), (22, 16.1), (46, 16.7)]
XTICKS = list(range(0, 91, 3))
DASH = "9px,3px,2px,3px,2px,3px"
TXT = "#3a3a55"

fig = go.Figure()
shapes, annotations = [], []
layout = {}

for i, p in enumerate(PANELS):
    r, c = divmod(i, 2)
    sfx = "" if i == 0 else str(i + 1)
    xa, ya = "x" + sfx, "y" + sfx
    ylo, yhi = Y_RANGE[i]

    # data traces
    for group in (p["series"], p["extra"]):
        for el, vals in group.items():
            xs = [START_T] + T
            ys = [10 ** FLOOR] + [None if v is None else 10 ** v for v in vals]
            fig.add_trace(go.Scatter(x=xs, y=ys, mode="lines", xaxis=xa, yaxis=ya,
                                     line=dict(color=COLORS[el], width=1.8),
                                     showlegend=False, hoverinfo="skip"))
    for el, frags in p["pre"].items():
        xs, ys = [], []
        for t0, v0, t1, v1 in frags:
            xs += [t0, t1, None]
            ys += [10 ** v0, 10 ** v1, None]
        fig.add_trace(go.Scatter(x=xs, y=ys, mode="lines", xaxis=xa, yaxis=ya,
                                 line=dict(color=COLORS[el], width=1.5),
                                 showlegend=False, hoverinfo="skip"))

    # axes
    bottom = (r == 3)
    ticktext = [("%d" % v if (bottom and v in (0, 30, 60)) else "") for v in XTICKS]
    layout["xaxis" + sfx] = dict(domain=X_DOM[c], anchor=ya, range=X_RANGE,
                                 showline=True, linecolor="black", linewidth=2,
                                 ticks="outside", ticklen=4, tickwidth=1.5, tickcolor="black",
                                 tickmode="array", tickvals=XTICKS, ticktext=ticktext,
                                 showgrid=False, zeroline=False,
                                 tickfont=dict(size=12, color="#2a2a40"))
    layout["yaxis" + sfx] = dict(domain=Y_DOM[r], anchor=xa, type="log", range=[ylo, yhi],
                                 showline=True, linecolor="black", linewidth=2,
                                 ticks="outside", ticklen=4, tickwidth=1.5, tickcolor="black",
                                 tickmode="array", tickvals=[1e3, 1e4, 1e5, 1e6, 1e7],
                                 ticktext=["10<sup>3</sup>", "", "10<sup>5</sup>", "", "10<sup>7</sup>"],
                                 showgrid=False, zeroline=False,
                                 tickfont=dict(size=11, color="#3d3a66"))

    # dash-dot gridlines (thick at 10^4 and 10^6, only 10^6 thick in h)
    decades = [3, 4, 5, 6, 7] if i < 7 else [3, 4, 5, 6]
    thick = [4, 6] if i < 7 else [6]
    for k in decades:
        is_thick = k in thick
        shapes.append(dict(type="line", xref=xa, yref=ya, x0=X_RANGE[0], x1=X_RANGE[1],
                           y0=10 ** k, y1=10 ** k, layer="below",
                           line=dict(color="#1a1a1a" if is_thick else "#555555",
                                     width=3.5 if is_thick else 1.5, dash=DASH)))

    # white legend panel (same layer as the gridlines, drawn after them)
    ph = (Y_DOM[r][1] - Y_DOM[r][0]) * PH
    off, sp = LEG_GEOM[i]
    names = list(p["series"].keys())
    n = len(names)
    frac_lo = 1 - (off + (n - 1) * sp + 9) / ph
    span = X_RANGE[1] - X_RANGE[0]
    shapes.append(dict(type="rect", xref=xa, yref=ya,
                       x0=X_RANGE[0] + 0.058 * span, x1=X_RANGE[0] + 0.266 * span,
                       y0=10 ** (ylo + frac_lo * (yhi - ylo)), y1=10 ** yhi,
                       fillcolor="white", line=dict(width=0), layer="below"))
    for j, el in enumerate(names):
        yy = 1 - (off + j * sp) / ph
        shapes.append(dict(type="line", xref=xa + " domain", yref=ya + " domain",
                           x0=0.086, x1=0.161, y0=yy, y1=yy,
                           line=dict(color=COLORS[el], width=3)))
        annotations.append(dict(xref=xa + " domain", yref=ya + " domain", x=0.185, y=yy,
                                xanchor="left", yanchor="middle", yshift=-2, showarrow=False,
                                text="<sup>%d</sup>%s" % (MASS[el], el),
                                font=dict(size=11, color=TXT)))

    # title and panel letter
    annotations.append(dict(xref=xa + " domain", yref=ya + " domain", x=0.13, y=1.0,
                            xanchor="center", yanchor="middle", yshift=1, showarrow=False,
                            text=p["title"], font=dict(size=13, color="#3b3550")))
    annotations.append(dict(xref=xa + " domain", yref=ya + " domain", x=0.95, y=0.915,
                            xanchor="center", yanchor="middle", showarrow=False,
                            text=p["letter"], font=dict(size=22, color="#1c2340")))
    if bottom:
        annotations.append(dict(xref=xa + " domain", yref=ya + " domain",
                                x=1.012 if c == 0 else 1.017, y=0,
                                xanchor="right", yanchor="middle", yshift=-25, showarrow=False,
                                text="Time, sec", font=dict(size=16, color="#1f2a50")))

fig.update_layout(width=W, height=H, margin=M, plot_bgcolor="white", paper_bgcolor="white",
                  showlegend=False, shapes=shapes, annotations=annotations,
                  font=dict(family="Liberation Sans, Arial, sans-serif"), **layout)

fig.write_html("out.html")
